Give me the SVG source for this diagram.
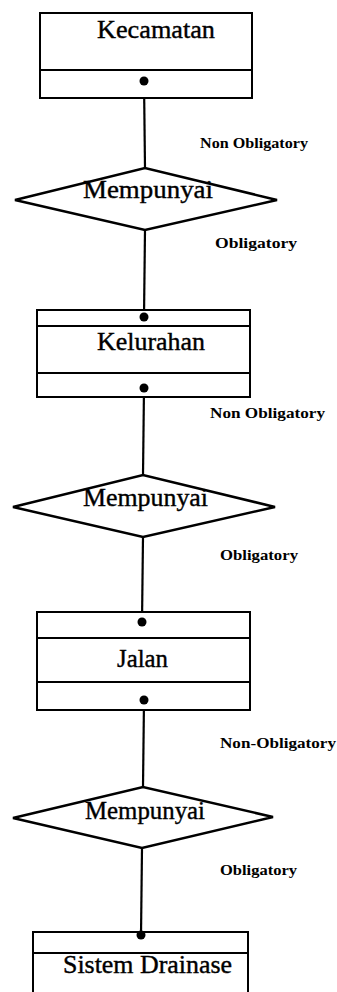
<svg xmlns="http://www.w3.org/2000/svg" width="337" height="992" viewBox="0 0 337 992">
<style>
.box{fill:#fff;stroke:#000;stroke-width:2}
.div{stroke:#000;stroke-width:2}
.dia{fill:#fff;stroke:#000;stroke-width:2.5;stroke-linejoin:miter}
.con{stroke:#000;stroke-width:2.2;fill:none}
.dot{fill:#000}
.ent{font-family:"Liberation Serif","Times New Roman",serif;font-size:26px;fill:#000;stroke:#000;stroke-width:0.4}
.lbl{font-family:"Liberation Serif","Times New Roman",serif;font-size:15px;font-weight:bold;fill:#000}
</style>
<rect width="337" height="992" fill="#fff"/>
<g id="connectors">
<line class="con" x1="144" y1="81" x2="145" y2="168"/>
<line class="con" x1="145" y1="230" x2="144" y2="317"/>
<line class="con" x1="144" y1="388" x2="143" y2="475"/>
<line class="con" x1="143" y1="537" x2="142" y2="622"/>
<line class="con" x1="144" y1="700" x2="143" y2="787"/>
<line class="con" x1="142" y1="848" x2="141" y2="935"/>
<text class="lbl" x="200" y="148" textLength="108" lengthAdjust="spacingAndGlyphs">Non Obligatory</text>
<text class="lbl" x="215" y="248" textLength="82" lengthAdjust="spacingAndGlyphs">Obligatory</text>
<text class="lbl" x="210" y="418" textLength="115" lengthAdjust="spacingAndGlyphs">Non Obligatory</text>
<text class="lbl" x="220" y="560" textLength="78" lengthAdjust="spacingAndGlyphs">Obligatory</text>
<text class="lbl" x="220" y="748" textLength="116" lengthAdjust="spacingAndGlyphs">Non-Obligatory</text>
<text class="lbl" x="220" y="875" textLength="77" lengthAdjust="spacingAndGlyphs">Obligatory</text>
</g>
<g id="kecamatan">
<rect class="box" x="40" y="13" width="212" height="85"/>
<line class="div" x1="40" y1="70" x2="252" y2="70"/>
<text class="ent" x="97" y="38" textLength="118" lengthAdjust="spacingAndGlyphs">Kecamatan</text>
<circle class="dot" cx="144" cy="81" r="4.5"/>
</g>
<g id="rel1">
<polygon class="dia" points="15,200 145,168 277,200 145,230"/>
<text class="ent" x="83" y="198" textLength="130" lengthAdjust="spacingAndGlyphs">Mempunyai</text>
</g>
<g id="kelurahan">
<rect class="box" x="37" y="310" width="213" height="87"/>
<line class="div" x1="37" y1="326" x2="250" y2="326"/>
<line class="div" x1="37" y1="373" x2="250" y2="373"/>
<text class="ent" x="97" y="350" textLength="108" lengthAdjust="spacingAndGlyphs">Kelurahan</text>
<circle class="dot" cx="144" cy="317" r="4.5"/>
<circle class="dot" cx="144" cy="388" r="4.5"/>
</g>
<g id="rel2">
<polygon class="dia" points="13,507 143,475 275,507 143,537"/>
<text class="ent" x="83" y="506" textLength="125" lengthAdjust="spacingAndGlyphs">Mempunyai</text>
</g>
<g id="jalan">
<rect class="box" x="37" y="612" width="213" height="98"/>
<line class="div" x1="37" y1="638" x2="250" y2="638"/>
<line class="div" x1="37" y1="682" x2="250" y2="682"/>
<text class="ent" x="117" y="667" textLength="51" lengthAdjust="spacingAndGlyphs">Jalan</text>
<circle class="dot" cx="142" cy="622" r="4.5"/>
<circle class="dot" cx="144" cy="700" r="4.5"/>
</g>
<g id="rel3">
<polygon class="dia" points="13,818 143,787 273,817 142,848"/>
<text class="ent" x="85" y="819" textLength="120" lengthAdjust="spacingAndGlyphs">Mempunyai</text>
</g>
<g id="sistem-drainase">
<rect class="box" x="33" y="932" width="215" height="70"/>
<line class="div" x1="33" y1="953" x2="248" y2="953"/>
<text class="ent" x="63" y="973" textLength="169" lengthAdjust="spacingAndGlyphs">Sistem Drainase</text>
<circle class="dot" cx="141" cy="935" r="4.5"/>
</g>
</svg>
